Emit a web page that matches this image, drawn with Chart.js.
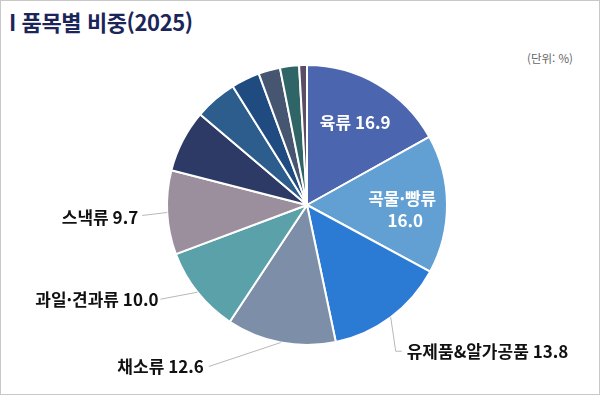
<!DOCTYPE html>
<html lang="ko">
<head>
<meta charset="UTF-8">
<script src="https://cdn.jsdelivr.net/npm/chart.js"></script>
<title>품목별 비중(2025)</title>
<style>
  body { margin: 0; background: #fff; }
  #wrap { position: relative; width: 600px; height: 395px; box-sizing: border-box; border: 1px solid #c8c8c8; font-family: "Noto Sans CJK KR", "Noto Sans", sans-serif; }
  #title { position: absolute; left: 8px; top: 4px; font-size: 22px; font-weight: 700; color: #1b2559; letter-spacing: -0.4px; }
  #unit { position: absolute; right: 26px; top: 49px; font-size: 11.5px; color: #666; }
  canvas { position: absolute; left: 0; top: 0; }
</style>
</head>
<body>
<div id="wrap">
  <div id="title">I 품목별 비중(2025)</div>
  <div id="unit">(단위: %)</div>
  <canvas id="myChart" width="598" height="393"></canvas>
</div>
<script>
const categories = ['육류', '곡물·빵류', '유제품&알가공품', '채소류', '과일·견과류', '스낵류', '기타1', '기타2', '기타3', '기타4', '기타5', '기타6'];
const shares = [16.9, 16.0, 13.8, 12.6, 10.0, 9.7, 7.2, 4.9, 3.3, 2.5, 2.2, 0.9];
const colors = ['#4b65ae', '#629fd3', '#2b7bd5', '#7d8ea8', '#5aa1aa', '#9b8f9d', '#2d3a66', '#2d5d8d', '#1f4b80', '#465570', '#2f6567', '#5b4d68'];
const shownLabels = 6;

// where each label goes, relative to the slice's outer edge point
// inside: [radius factor, dy]; outside: leader line points + text anchor
const labelLayout = [
  { inside: true, f: 0.68, dy: 0 },
  { inside: true, f: 0.68, dy: 5, twoLines: true },
  { line: [[0, 0], [5, 34], [11, 34]], text: [16, 34], align: 'left' },
  { line: [[0, 0], [-72, 24]], text: [-77, 24], align: 'right' },
  { line: [[0, 0], [-37, 7]], text: [-39, 7], align: 'right' },
  { line: [[0, 0], [-25, 3]], text: [-29, 5], align: 'right' }
];

const sliceLabels = {
  id: 'sliceLabels',
  afterDatasetsDraw(chart) {
    const ctx = chart.ctx;
    const meta = chart.getDatasetMeta(0);
    ctx.save();
    ctx.font = '700 17px "Noto Sans CJK KR", sans-serif';
    ctx.textBaseline = 'middle';
    for (let i = 0; i < shownLabels; i++) {
      const arc = meta.data[i];
      const p = arc.getProps(['x', 'y', 'startAngle', 'endAngle', 'outerRadius'], true);
      const mid = (p.startAngle + p.endAngle) / 2;
      const lay = labelLayout[i];
      const txt = categories[i] + ' ' + shares[i].toFixed(1);
      if (lay.inside) {
        const r = p.outerRadius * lay.f;
        const cx = p.x + Math.cos(mid) * r;
        const cy = p.y + Math.sin(mid) * r + lay.dy;
        ctx.fillStyle = '#fff';
        ctx.textAlign = 'center';
        if (lay.twoLines) {
          ctx.fillText(categories[i], cx, cy - 11);
          ctx.fillText(shares[i].toFixed(1), cx + 3, cy + 11);
        } else {
          ctx.fillText(txt, cx, cy);
        }
      } else {
        const ex = p.x + Math.cos(mid) * p.outerRadius;
        const ey = p.y + Math.sin(mid) * p.outerRadius;
        ctx.strokeStyle = '#b8b8b8';
        ctx.lineWidth = 1;
        ctx.beginPath();
        lay.line.forEach((pt, k) => {
          if (k === 0) ctx.moveTo(ex + pt[0], ey + pt[1]);
          else ctx.lineTo(ex + pt[0], ey + pt[1]);
        });
        ctx.stroke();
        ctx.fillStyle = '#111';
        ctx.textAlign = lay.align;
        ctx.fillText(txt, ex + lay.text[0], ey + lay.text[1]);
      }
    }
    ctx.restore();
  }
};

new Chart(document.getElementById('myChart'), {
  type: 'pie',
  data: {
    labels: categories,
    datasets: [{
      data: shares,
      backgroundColor: colors,
      borderColor: '#fff',
      borderWidth: 2
    }]
  },
  options: {
    responsive: false,
    animation: false,
    layout: { padding: { top: 63, bottom: 48, left: 165, right: 151 } },
    plugins: {
      legend: { display: false },
      tooltip: { enabled: false }
    }
  },
  plugins: [sliceLabels]
});
</script>
</body>
</html>
